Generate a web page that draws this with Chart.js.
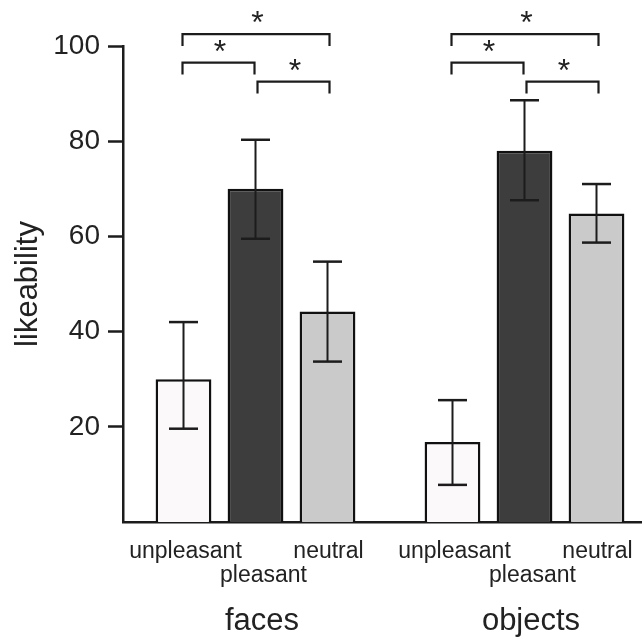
<!DOCTYPE html>
<html>
<head>
<meta charset="utf-8">
<script src="https://cdn.jsdelivr.net/npm/chart.js@4.4.1/dist/chart.umd.min.js"></script>
<style>
  html, body { margin: 0; padding: 0; background: #fff; overflow: hidden; }
  #wrap { width: 642px; height: 640px; position: relative; }
</style>
</head>
<body>
<div id="wrap"><canvas id="c" width="642" height="640"></canvas></div>
<script>
// Stimulus groups and rating conditions
const groups = ['faces', 'objects'];
const conditions = ['unpleasant', 'pleasant', 'neutral'];

// Mean likeability per condition (faces, objects)
const unpleasantMeans = [30.0, 16.8];
const pleasantMeans   = [70.0, 78.0];
const neutralMeans    = [44.2, 64.8];

// Error bar bounds per condition (faces, objects)
const unpleasantLow  = [19.6, 7.8];
const unpleasantHigh = [42.0, 25.6];
const pleasantLow    = [59.5, 67.6];
const pleasantHigh   = [80.3, 88.6];
const neutralLow     = [33.7, 58.7];
const neutralHigh    = [54.7, 71.0];

// Y axis tick values
const yTicks = [20, 40, 60, 80, 100];

// Significance brackets: condition pairs, bracket level, marker
const sigPairs  = [[0, 2], [0, 1], [1, 2]];
const sigLevels = [102.5, 96.5, 92.5];
const sigMarks  = ['*', '*', '*'];

const means = [unpleasantMeans, pleasantMeans, neutralMeans];
const lows  = [unpleasantLow, pleasantLow, neutralLow];
const highs = [unpleasantHigh, pleasantHigh, neutralHigh];

const INK = '#1c1c1c';
const FONT = '"Liberation Sans", Arial, Helvetica, sans-serif';
const fills = ['#fbf9fa', '#3d3d3d', '#cacaca'];

const datasets = conditions.map((name, k) => ({
  label: name,
  data: groups.map((g, i) => ({ x: i, y: means[k][i] })),
  backgroundColor: fills[k],
  borderColor: '#111',
  borderWidth: 2.5,
  categoryPercentage: 0.803,
  barPercentage: 0.775
}));

function seg(ctx, x1, y1, x2, y2) {
  ctx.beginPath();
  ctx.moveTo(x1, y1);
  ctx.lineTo(x2, y2);
  ctx.stroke();
}

// Error bars, significance brackets and condition / group captions
const annotate = {
  id: 'annotate',
  afterDatasetsDraw(chart) {
    const ctx = chart.ctx;
    const ys = chart.scales.y;
    const metas = conditions.map((_, k) => chart.getDatasetMeta(k));
    const labelShift = [2, 8, 1];
    const labelBase = [558, 582, 558];
    ctx.save();
    ctx.strokeStyle = INK;
    ctx.fillStyle = '#222';
    groups.forEach((g, i) => {
      const xs = metas.map(m => m.data[i].x);

      xs.forEach((x, k) => {
        const lo = ys.getPixelForValue(lows[k][i]);
        const hi = ys.getPixelForValue(highs[k][i]);
        ctx.lineWidth = 2;
        seg(ctx, x, lo, x, hi);
        ctx.lineWidth = 2.5;
        seg(ctx, x - 14.5, hi, x + 14.5, hi);
        seg(ctx, x - 14.5, lo, x + 14.5, lo);
      });

      sigPairs.forEach(([a, b], s) => {
        const x1 = xs[a] + (a === 1 ? 2 : -1);
        const x2 = xs[b] + (b === 1 ? -1 : 2);
        const top = ys.getPixelForValue(sigLevels[s]);
        const leg = ys.getPixelForValue(sigLevels[s] - 2.5);
        ctx.lineWidth = 2.2;
        ctx.lineJoin = 'miter';
        ctx.beginPath();
        ctx.moveTo(x1, leg);
        ctx.lineTo(x1, top);
        ctx.lineTo(x2, top);
        ctx.lineTo(x2, leg);
        ctx.stroke();
        ctx.font = '32px ' + FONT;
        ctx.textAlign = 'center';
        ctx.textBaseline = 'alphabetic';
        ctx.fillText(sigMarks[s], (x1 + x2) / 2 + 1.5, top - 1);
      });

      ctx.font = '23px ' + FONT;
      ctx.textAlign = 'center';
      ctx.textBaseline = 'alphabetic';
      conditions.forEach((name, k) => {
        ctx.fillText(name, xs[k] + labelShift[k], labelBase[k]);
      });

      ctx.font = '31px ' + FONT;
      const cx = xs.reduce((p, q) => p + q, 0) / xs.length;
      ctx.fillText(g, cx + 6.5, 630);
    });
    ctx.restore();
  }
};

new Chart(document.getElementById('c'), {
  type: 'bar',
  data: { datasets },
  plugins: [annotate],
  options: {
    responsive: false,
    animation: false,
    devicePixelRatio: 1,
    layout: { padding: { top: 46, right: 0, bottom: 0, left: 0 } },
    plugins: { legend: { display: false }, tooltip: { enabled: false } },
    scales: {
      x: {
        type: 'linear',
        offset: false,
        min: -0.4926,
        max: 1.4368,
        grid: { display: false },
        border: { display: true, color: INK, width: 2.5 },
        ticks: { display: false, stepSize: 1, includeBounds: false },
        afterFit(scale) { scale.height = 118; }
      },
      y: {
        min: 0,
        max: 100,
        afterBuildTicks(scale) { scale.ticks = yTicks.map(v => ({ value: v })); },
        grid: {
          display: true,
          drawOnChartArea: false,
          drawTicks: true,
          tickLength: 15,
          tickColor: INK,
          tickWidth: 2.5
        },
        border: { display: true, color: INK, width: 2.5 },
        ticks: {
          color: '#222',
          padding: 8,
          font: { family: FONT, size: 28 }
        },
        title: {
          display: true,
          text: 'likeability',
          color: '#222',
          font: { family: FONT, size: 31 },
          padding: { top: 10, bottom: 0 }
        },
        afterFit(scale) { scale.width = 123; }
      }
    }
  }
});
</script>
</body>
</html>
